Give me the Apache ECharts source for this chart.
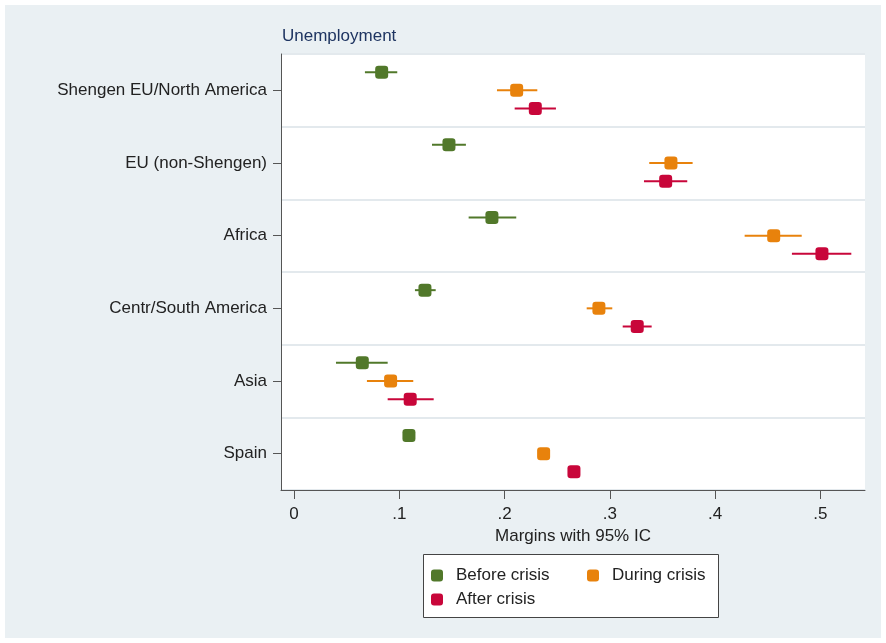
<!DOCTYPE html>
<html><head><meta charset="utf-8">
<script src="https://cdn.jsdelivr.net/npm/echarts@6/dist/echarts.min.js"></script>
<style>
html,body{margin:0;padding:0;background:#fff;}
#bg{position:absolute;left:5px;top:5px;width:876px;height:633px;background:#eaf0f3;}
#c{position:absolute;left:0;top:0;width:886px;height:643px;}
</style></head>
<body><div id="bg"></div><div id="c"></div>
<script>
const categories = ['Shengen EU/North America','EU (non-Shengen)','Africa','Centr/South America','Asia','Spain'];
const seriesNames = ['Before crisis','During crisis','After crisis'];
const before   = [0.0833, 0.1472, 0.1880, 0.1244, 0.0649, 0.1092];
const beforeLo = [0.0674, 0.1311, 0.1659, 0.1149, 0.0399, 0.1085];
const beforeHi = [0.0981, 0.1633, 0.2111, 0.1346, 0.0890, 0.1099];
const during   = [0.2115, 0.3580, 0.4556, 0.2896, 0.0918, 0.2371];
const duringLo = [0.1928, 0.3374, 0.4280, 0.2780, 0.0693, 0.2364];
const duringHi = [0.2311, 0.3786, 0.4822, 0.3023, 0.1133, 0.2378];
const after    = [0.2292, 0.3530, 0.5014, 0.3260, 0.1104, 0.2659];
const afterLo  = [0.2096, 0.3324, 0.4729, 0.3122, 0.0890, 0.2652];
const afterHi  = [0.2488, 0.3735, 0.5293, 0.3397, 0.1327, 0.2666];
const xTicks = [0, 0.1, 0.2, 0.3, 0.4, 0.5];

const colors = ['#51782a', '#e8820c', '#c8063a'];
const offsets = [-0.25, 0, 0.25];
const groups = [[before, beforeLo, beforeHi],[during, duringLo, duringHi],[after, afterLo, afterHi]];

const series = [];
groups.forEach((g, s) => {
  const [c, lo, hi] = g;
  series.push({
    name: seriesNames[s] + ' CI', type: 'custom', xAxisIndex: 0, yAxisIndex: 1, z: 2,
    encode: {x: [0, 1], y: 2},
    data: categories.map((_, i) => [lo[i], hi[i], i + 0.5 + offsets[s]]),
    renderItem: function (params, api) {
      const p1 = api.coord([api.value(0), api.value(2)]);
      const p2 = api.coord([api.value(1), api.value(2)]);
      return {type: 'line', shape: {x1: p1[0], y1: p1[1], x2: p2[0], y2: p2[1]},
              style: {stroke: colors[s], lineWidth: 2}};
    }
  });
  series.push({
    name: seriesNames[s], type: 'scatter', xAxisIndex: 0, yAxisIndex: 1, z: 5,
    symbol: 'roundRect', symbolSize: 13,
    itemStyle: {color: colors[s], opacity: 1},
    data: categories.map((_, i) => [c[i], i + 0.5 + offsets[s]])
  });
});

const legendCommon = {
  orient: 'vertical', padding: 0, icon: 'roundRect', itemWidth: 12, itemHeight: 12, itemGap: 7, z: 10,
  textStyle: {fontSize: 17, color: '#222', padding: [0, 0, 0, 8]}
};

const chart = echarts.init(document.getElementById('c'));
chart.setOption({
  animation: false,
  backgroundColor: 'transparent',
  textStyle: {fontFamily: 'Liberation Sans, Arial, sans-serif'},
  title: {text: 'Unemployment', left: 282, top: 28, padding: 0,
    textStyle: {fontSize: 17, fontWeight: 'normal', color: '#1e3461', fontFamily: 'Liberation Sans, Arial, sans-serif'}},
  grid: {left: 281, right: 21, top: 54, bottom: 153, show: true, backgroundColor: '#ffffff', borderWidth: 0},
  xAxis: {
    type: 'value', min: -0.0123, max: 0.5423, position: 'bottom',
    name: 'Margins with 95% IC', nameLocation: 'middle', nameGap: 38,
    nameTextStyle: {fontSize: 17, color: '#222'},
    axisLine: {show: true, onZero: false, lineStyle: {color: '#555', width: 1}},
    axisTick: {show: true, length: 9, customValues: xTicks, lineStyle: {color: '#555'}},
    axisLabel: {customValues: xTicks, fontSize: 17, color: '#222', margin: 16,
      formatter: v => v === 0 ? '0' : String(Math.round(v * 10) / 10).replace(/^0/, '')},
    splitLine: {show: false}
  },
  yAxis: [{
    type: 'category', data: categories, inverse: true, position: 'left',
    axisLine: {show: true, onZero: false, lineStyle: {color: '#555', width: 1}},
    axisTick: {show: true, alignWithLabel: true, length: 8, lineStyle: {color: '#555'}},
    axisLabel: {fontSize: 17, color: '#222', margin: 14},
    splitLine: {show: false}
  }, {
    type: 'value', min: 0, max: 6, interval: 1, inverse: true, show: true, position: 'left',
    axisLine: {show: false, onZero: false}, axisTick: {show: false}, axisLabel: {show: false},
    splitLine: {show: true, lineStyle: {color: '#e3e9ed', width: 2}}
  }],
  legend: [
    Object.assign({}, legendCommon, {data: [seriesNames[0], seriesNames[2]], left: 431, top: 567}),
    Object.assign({}, legendCommon, {data: [seriesNames[1]], left: 587, top: 567})
  ],
  graphic: [{type: 'rect', left: 423, top: 554, z: 0,
    shape: {width: 295, height: 63}, style: {fill: '#fff', stroke: '#444', lineWidth: 1}}],
  series: series
});
</script></body></html>
